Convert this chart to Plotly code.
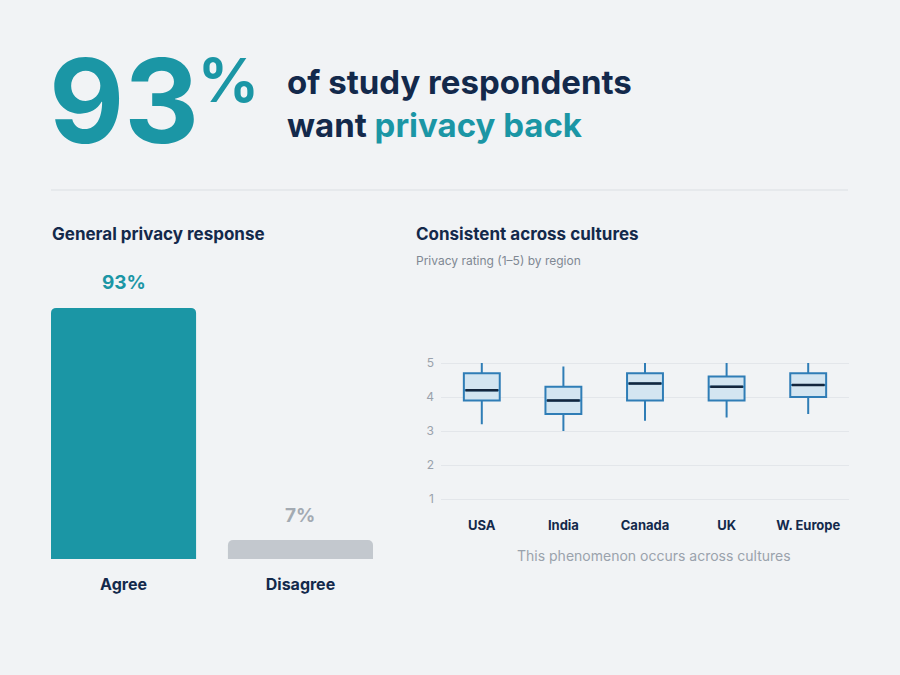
import plotly.graph_objects as go

# ---- data ----
resp_categories = ["Agree", "Disagree"]
resp_values = [93, 7]
resp_labels = ["93%", "7%"]

regions = ["USA", "India", "Canada", "UK", "W. Europe"]
lower_whisker = [3.2, 3.0, 3.3, 3.4, 3.5]
q1_vals = [3.9, 3.5, 3.9, 3.9, 4.0]
median_vals = [4.2, 3.9, 4.4, 4.3, 4.35]
q3_vals = [4.7, 4.3, 4.7, 4.6, 4.7]
upper_whisker = [5.0, 4.9, 5.0, 5.0, 5.0]
y_ticks = [1, 2, 3, 4, 5]

TEAL = "#1B96A5"
NAVY = "#13294B"
GRAY_BAR = "#C3C8CE"
GRAY_TXT = "#9AA2AC"
BG = "#F1F3F5"
FONT = "Inter, 'Noto Sans', sans-serif"

W, H = 900, 675
def px(x): return x / W
def py(y): return 1 - y / H

fig = go.Figure()

# bar chart
fig.add_trace(go.Bar(
    x=resp_categories, y=resp_values,
    marker=dict(color=[TEAL, GRAY_BAR], line=dict(width=0)),
    width=0.82, xaxis="x", yaxis="y", showlegend=False, hoverinfo="skip",
))

# box plot
fig.add_trace(go.Box(
    x=regions, q1=q1_vals, median=median_vals, q3=q3_vals,
    lowerfence=lower_whisker, upperfence=upper_whisker,
    fillcolor="#D3E5F1", line=dict(color="#2F7DB6", width=2), whiskerwidth=0,
    width=0.44, xaxis="x2", yaxis="y2", showlegend=False, hoverinfo="skip",
))
# dark median lines
fig.add_trace(go.Box(
    x=regions, q1=median_vals, median=median_vals, q3=median_vals,
    lowerfence=median_vals, upperfence=median_vals,
    fillcolor="rgba(0,0,0,0)", line=dict(color="#13263D", width=2.5), whiskerwidth=0,
    width=0.40, xaxis="x2", yaxis="y2", showlegend=False, hoverinfo="skip",
))

annotations = []
# headline
annotations.append(dict(text="<b>93</b>", x=px(47), y=py(101), xref="paper", yref="paper",
                        xanchor="left", yanchor="middle", showarrow=False,
                        font=dict(family=FONT, size=116, color=TEAL, weight=900)))
annotations.append(dict(text="<b>%</b>", x=px(196), y=py(80), xref="paper", yref="paper",
                        xanchor="left", yanchor="middle", showarrow=False,
                        font=dict(family=FONT, size=60, color=TEAL, weight=900)))
annotations.append(dict(text="<b>of study respondents<br>want <span style='color:%s'>privacy back</span></b>" % TEAL,
                        x=px(285), y=py(103), xref="paper", yref="paper",
                        xanchor="left", yanchor="middle", align="left", showarrow=False,
                        font=dict(family=FONT, size=33, color=NAVY, weight=800)))
# section titles
annotations.append(dict(text="<b>General privacy response</b>", x=px(50), y=py(234), xref="paper", yref="paper",
                        xanchor="left", yanchor="middle", showarrow=False,
                        font=dict(family=FONT, size=17, color=NAVY)))
annotations.append(dict(text="<b>Consistent across cultures</b>", x=px(414), y=py(234), xref="paper", yref="paper",
                        xanchor="left", yanchor="middle", showarrow=False,
                        font=dict(family=FONT, size=17, color=NAVY)))
annotations.append(dict(text="Privacy rating (1–5) by region", x=px(414), y=py(260), xref="paper", yref="paper",
                        xanchor="left", yanchor="middle", showarrow=False,
                        font=dict(family=FONT, size=12, color="#7F8893")))
annotations.append(dict(text="This phenomenon occurs across cultures", x=px(654), y=py(555), xref="paper", yref="paper",
                        xanchor="center", yanchor="middle", showarrow=False,
                        font=dict(family=FONT, size=14, color=GRAY_TXT)))
# bar value labels
for cat, val, lab, col in zip(resp_categories, resp_values, resp_labels, [TEAL, "#A3AAB2"]):
    annotations.append(dict(text="<b>%s</b>" % lab, x=cat, y=val, xref="x", yref="y",
                            xanchor="center", yanchor="middle", yshift=25, showarrow=False,
                            font=dict(family=FONT, size=19, color=col)))

shapes = [dict(type="line", xref="paper", yref="paper", x0=px(51), x1=px(848), y0=py(190), y1=py(190),
               line=dict(color="#DCE0E4", width=1.2))]

fig.update_layout(
    width=W, height=H, margin=dict(l=0, r=0, t=0, b=0),
    paper_bgcolor=BG, plot_bgcolor=BG,
    barcornerradius=5,
    annotations=annotations, shapes=shapes,
    xaxis=dict(domain=[px(51), px(373)], range=[-0.41, 1.41], showgrid=False, zeroline=False,
               showline=False, ticks="", ticklabelstandoff=14,
               tickfont=dict(family=FONT, size=16, color=NAVY, weight=700)),
    yaxis=dict(domain=[py(559), py(289)], range=[0, 100], visible=False),
    xaxis2=dict(domain=[px(441), px(849)], range=[-0.5, 4.5], showgrid=False, zeroline=False,
                showline=False, ticks="", anchor="y2", ticklabelstandoff=8,
                tickfont=dict(family=FONT, size=13, color=NAVY, weight=700)),
    yaxis2=dict(domain=[py(507.5), py(354.5)], range=[0.75, 5.25], anchor="x2",
                tickvals=y_ticks, showgrid=True, gridcolor="#E3E6EA", gridwidth=1,
                zeroline=False, showline=False, ticks="", ticklabelstandoff=6,
                tickfont=dict(family=FONT, size=12, color=GRAY_TXT)),
    boxmode="overlay",
)

fig.write_html("out.html", config={"displayModeBar": False},
               post_script="document.body.style.margin='0';document.body.style.background='%s';" % BG)
